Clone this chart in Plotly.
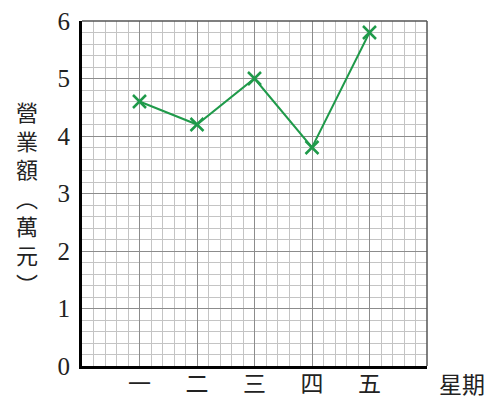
import plotly.graph_objects as go

days = ["一", "二", "三", "四", "五"]
sales = [4.6, 4.2, 5.0, 3.8, 5.8]
y_ticks = [0, 1, 2, 3, 4, 5, 6]
y_title_chars = ["營", "業", "額", "︵", "萬", "元", "︶"]
x_title = "星期"

xpos = list(range(1, len(days) + 1))
green = "#1f9a4a"
serif = "Liberation Serif, Times New Roman, serif"
cjk = "Noto Sans CJK TC, Noto Sans CJK SC, sans-serif"

fig = go.Figure()
fig.add_trace(go.Scatter(
    x=xpos, y=sales, mode="lines+markers",
    line=dict(color=green, width=2),
    marker=dict(symbol="x-thin", size=13, line=dict(color=green, width=2.5), color=green),
    showlegend=False, cliponaxis=False,
))

fig.update_layout(
    width=490, height=390,
    margin=dict(l=74, r=71, t=13, b=32, autoexpand=False),
    plot_bgcolor="white", paper_bgcolor="white",
    xaxis=dict(
        range=[0, 6], tickvals=xpos, ticktext=days, automargin=False,
        showgrid=True, gridcolor="#8c8c8c", gridwidth=1.3,
        minor=dict(dtick=0.2, tick0=0, showgrid=True, gridcolor="#c4c4c4", gridwidth=1.3),
        showline=True, linecolor="black", linewidth=3,
        ticks="", tickfont=dict(family=cjk, size=23, color="#222"),
        ticklabelstandoff=-5, ticklabeloverflow="allow",
        zeroline=False, fixedrange=True,
    ),
    yaxis=dict(
        range=[0, 6], tickvals=y_ticks, automargin=False,
        showgrid=True, gridcolor="#8c8c8c", gridwidth=1.3,
        minor=dict(dtick=0.2, tick0=0, showgrid=True, gridcolor="#c4c4c4", gridwidth=1.3),
        showline=True, linecolor="black", linewidth=3,
        ticks="", tickfont=dict(family=serif, size=25, color="#222"),
        ticklabelstandoff=4, ticklabeloverflow="allow",
        zeroline=False, fixedrange=True,
    ),
    shapes=[
        dict(type="line", xref="x domain", yref="y domain", x0=0, x1=1, y0=1, y1=1,
             line=dict(color="#555", width=1.5)),
        dict(type="line", xref="x domain", yref="y domain", x0=1, x1=1, y0=0, y1=1,
             line=dict(color="#555", width=1.5)),
    ],
    annotations=[
        dict(text="<br>".join(y_title_chars), xref="paper", yref="paper",
             x=-0.16, y=0.49, xanchor="center", yanchor="middle", showarrow=False,
             font=dict(family=cjk, size=22, color="#222")),
        dict(text=x_title, xref="paper", yref="paper", x=1.1, y=-0.05,
             xanchor="center", yanchor="middle", showarrow=False,
             font=dict(family=cjk, size=23, color="#222")),
    ],
)

fig.write_html("out.html")
